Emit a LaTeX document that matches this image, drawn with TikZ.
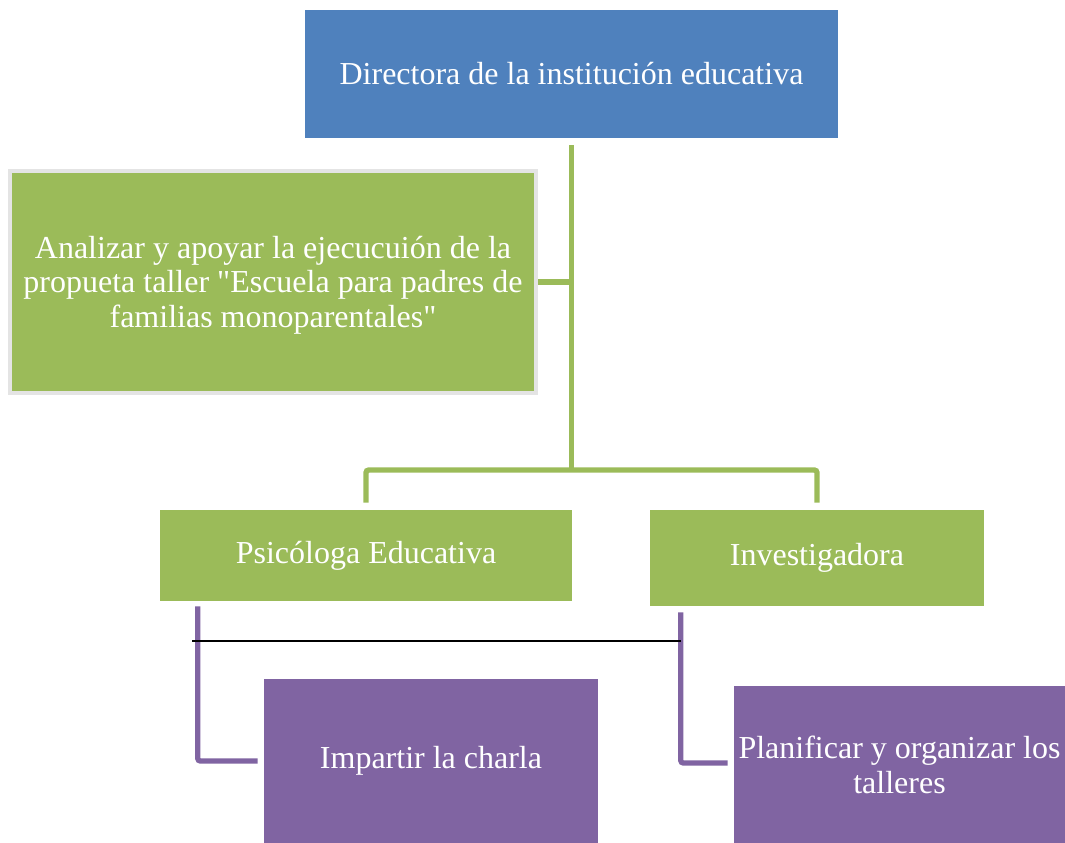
\documentclass[tikz,border=0pt]{standalone}
\usepackage{fontspec}
\setmainfont{Liberation Serif}[Ligatures=TeXOff]
\definecolor{blueA}{HTML}{4F81BD}
\definecolor{greenA}{HTML}{9BBB59}
\definecolor{purpleA}{HTML}{8064A2}
\definecolor{grayB}{HTML}{E4E4E4}
\begin{document}
\begin{tikzpicture}[x=0.75pt,y=-0.75pt,
  box/.style={draw=none, inner sep=0pt, align=center, text=white,
    font=\fontsize{24}{26.5}\selectfont},
  gline/.style={draw=greenA, line width=4pt, rounded corners=2pt},
  pline/.style={draw=purpleA, line width=4pt, rounded corners=2pt},
  kline/.style={draw=black, line width=1.5pt}]
\useasboundingbox (0,0) rectangle (1065,843);
\node[box, fill=blueA, minimum width=399.75pt, minimum height=96pt] (top) at (571.5,74) {Directora de la institución educativa};
\node[box, fill=greenA, draw=grayB, line width=3pt, minimum width=394.5pt, minimum height=166.5pt] (ana) at (273,282) {\raisebox{-9pt}[0pt][0pt]{\begin{tabular}{@{}c@{}}Analizar y apoyar la ejecucuión de la\\[-0.5pt]propueta taller "Escuela para padres de\\[-0.5pt]familias monoparentales"\end{tabular}}};
\node[box, fill=greenA, minimum width=309pt, minimum height=68.25pt] (psi) at (366,555.5) {Psicóloga Educativa};
\node[box, fill=greenA, minimum width=250.5pt, minimum height=72pt] (inv) at (817,558) {Investigadora};
\node[box, fill=purpleA, minimum width=250.5pt, minimum height=123pt] (imp) at (431,761) {Impartir la charla};
\node[box, fill=purpleA, minimum width=248.25pt, minimum height=119.25pt] (pla) at (899.5,765) {Planificar y organizar los\\talleres};
\coordinate (j2) at (top.south |- 0,470);
\coordinate (p1) at ([xshift=28.5pt,yshift=-3.75pt]psi.south west);
\coordinate (p2) at ([xshift=23.25pt,yshift=-4.5pt]inv.south west);
\coordinate (bl) at (p1 |- 0,641);
\coordinate (br) at (p2 |- 0,641);
\draw[gline] ([yshift=-5.25pt]top.south) -- (j2);
\draw[gline] (ana.east) -- (ana.east -| j2);
\draw[gline] ([yshift=5.25pt]psi.north) |- (j2) -| ([yshift=5.25pt]inv.north);
\draw[pline] (p1) |- ([xshift=-4.5pt]imp.west);
\draw[pline] (p2) |- ([xshift=-4.5pt,yshift=1.5pt]pla.west);
\draw[kline] ([xshift=-4pt]bl) -- (br);
\end{tikzpicture}
\end{document}
